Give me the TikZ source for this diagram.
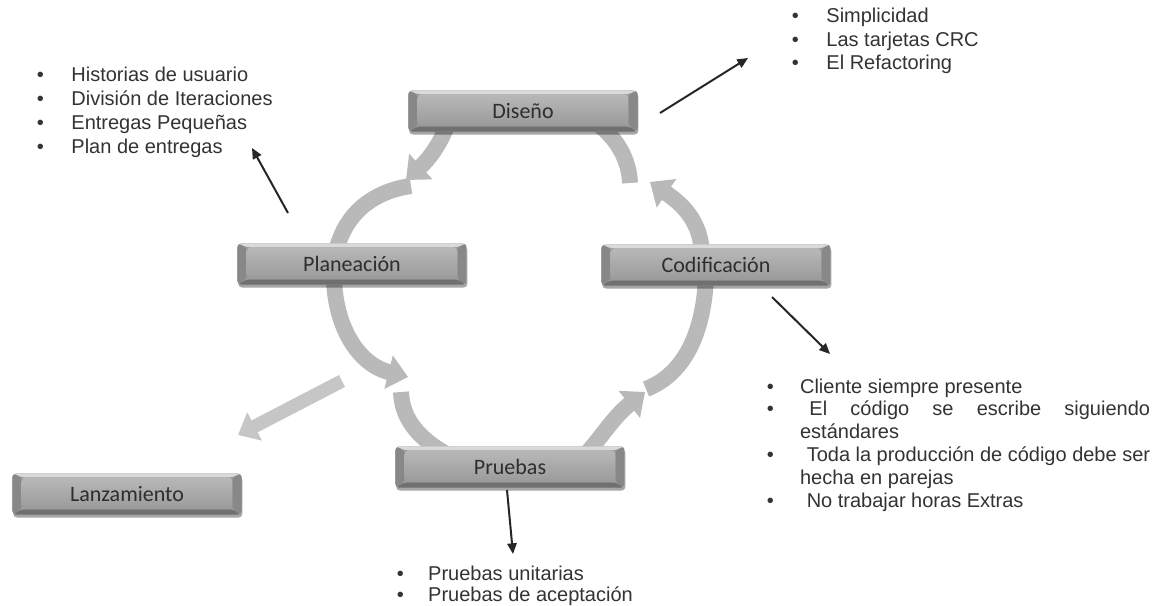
\documentclass[tikz,border=0pt]{standalone}
\usepackage{fontspec}
\setmainfont{Liberation Sans}
\newfontfamily\boxfont{Carlito}
\usetikzlibrary{arrows.meta,shadows,calc}

\definecolor{ringgray}{HTML}{B9B9B9}
\definecolor{lanzgray}{HTML}{C6C6C6}
\definecolor{bvtop}{HTML}{DADADA}
\definecolor{bvbot}{HTML}{707070}
\definecolor{bvside}{HTML}{888888}
\definecolor{facetop}{HTML}{B8B8B8}
\definecolor{facebot}{HTML}{9A9A9A}
\definecolor{labeltext}{HTML}{2E2E2E}
\definecolor{listtext}{HTML}{333333}

% one bullet line: indent width, then the text
\newcommand\bulletline[2]{\makebox[#1][l]{\textbullet}#2}

\begin{document}
\begin{tikzpicture}[x=0.75pt,y=-0.75pt,
  stagebox/.style={rectangle, rounded corners=3pt, minimum width=172pt, minimum height=31pt,
    inner sep=0pt, fill=facebot,
    drop shadow={shadow xshift=0.6pt, shadow yshift=-2.2pt, opacity=0.35, fill=black},
    font=\boxfont\fontsize{16.5}{18}\selectfont, text=labeltext,
    path picture={
      \path (path picture bounding box.north west) coordinate (bnw)
            (path picture bounding box.north east) coordinate (bne)
            (path picture bounding box.south west) coordinate (bsw)
            (path picture bounding box.south east) coordinate (bse);
      \fill[bvtop] (bnw) -- (bne) -- ($(bne)+(-7pt,-3pt)$) -- ($(bnw)+(7pt,-3pt)$) -- cycle;
      \fill[bvbot] (bsw) -- (bse) -- ($(bse)+(-7pt,4pt)$) -- ($(bsw)+(7pt,4pt)$) -- cycle;
      \fill[bvside] (bnw) -- ($(bnw)+(7pt,-3pt)$) -- ($(bsw)+(7pt,4pt)$) -- (bsw) -- cycle;
      \fill[bvside] (bne) -- ($(bne)+(-7pt,-3pt)$) -- ($(bse)+(-7pt,4pt)$) -- (bse) -- cycle;
      \shade[top color=facetop, bottom color=facebot] ($(bnw)+(7pt,-3pt)$) rectangle ($(bse)+(-7pt,4pt)$);
    }},
  listnode/.style={anchor=base west, inner sep=0pt, text=listtext},
  ring/.style={draw=ringgray, line width=12pt, line cap=butt},
  ringhead/.style={ring, -{Triangle[length=15pt,width=25pt]}},
  pointer/.style={draw=black!85, line width=1.5pt, -{Triangle[length=8pt,width=7pt]}}
]
\useasboundingbox (0,0) rectangle (1168,606);
\fill[white] (0,0) rectangle (1168,606);

% ring of curved block arrows (drawn first, the stage boxes cover their ends)
\draw[ringhead] (447,125) .. controls (440,145) and (428,160) .. (406,180);
\draw[ring] (411,186) .. controls (375,191) and (345,212) .. (336,252);
\draw[ring] (598,124) .. controls (618,140) and (629,160) .. (630,183);
\draw[ringhead] (702,252) .. controls (700,225) and (688,208) .. (650,182);
\draw[ringhead] (334,280) .. controls (336,330) and (360,365) .. (408,377);
\draw[ring] (401,392) .. controls (402,420) and (420,440) .. (450,456);
\draw[ringhead] (583,457) .. controls (600,440) and (612,418) .. (645,392);
\draw[ring] (646,389) .. controls (680,376) and (703,340) .. (706,278);

% thick grey arrow toward the release stage
\coordinate (lzA) at (342,381);
\coordinate (lzB) at (238,435);
\draw[lanzgray, line width=10pt, line cap=butt, -{Triangle[length=14pt,width=23pt]}] (lzA) -- (lzB);

% stages
\node[stagebox] (dis) at (523,111) {Diseño};
\node[stagebox] (pla) at (352,264) {Planeación};
\node[stagebox] (cod) at (716,265) {Codificación};
\node[stagebox] (pru) at (510,467) {Pruebas};
\node[stagebox] (lan) at (127,494) {Lanzamiento};

% practice lists
\node[listnode] (plist) at (36.5,82) {\parbox[t]{240pt}{\raggedright\fontsize{15}{17.8}\selectfont
  \bulletline{26pt}{Historias de usuario}\\
  \bulletline{26pt}{División de Iteraciones}\\
  \bulletline{26pt}{Entregas Pequeñas}\\
  \bulletline{26pt}{Plan de entregas}}};

\node[listnode] (dlist) at (791.5,23) {\parbox[t]{240pt}{\raggedright\fontsize{15}{17.6}\selectfont
  \bulletline{26pt}{Simplicidad}\\
  \bulletline{26pt}{Las tarjetas CRC}\\
  \bulletline{26pt}{El Refactoring}}};

\node[listnode] (clist) at (766.5,393) {\parbox[t]{300pt}{\raggedright\fontsize{15}{17.2}\selectfont
  \bulletline{25pt}{Cliente siempre presente}\\
  \bulletline{25pt}{\makebox[262.5pt][s]{\hspace{7pt}El código se escribe siguiendo}}\\
  \hspace*{25pt}estándares\\
  \bulletline{25pt}{\makebox[262.5pt][s]{\hspace{5pt}Toda la producción de código debe ser}}\\
  \hspace*{25pt}hecha en parejas\\
  \bulletline{25pt}{\hspace{5pt}No trabajar horas Extras}}};

\node[listnode] (tlist) at (396.5,580) {\parbox[t]{240pt}{\raggedright\fontsize{15}{16.4}\selectfont
  \bulletline{23.6pt}{Pruebas unitarias}\\
  \bulletline{23.6pt}{Pruebas de aceptación}}};

% pointers from the stages to their lists
\coordinate (pA) at (288,213);
\coordinate (pB) at (252,148);
\coordinate (dA) at (660,113);
\coordinate (dB) at (748,58);
\coordinate (cA) at (772,297);
\coordinate (cB) at (830,354);
\coordinate (tA) at (507,490);
\coordinate (tB) at (513,554);
\draw[pointer] (pA) -- (pB);
\draw[pointer] (dA) -- (dB);
\draw[pointer] (cA) -- (cB);
\draw[pointer] (tA) -- (tB);
\end{tikzpicture}
\end{document}
